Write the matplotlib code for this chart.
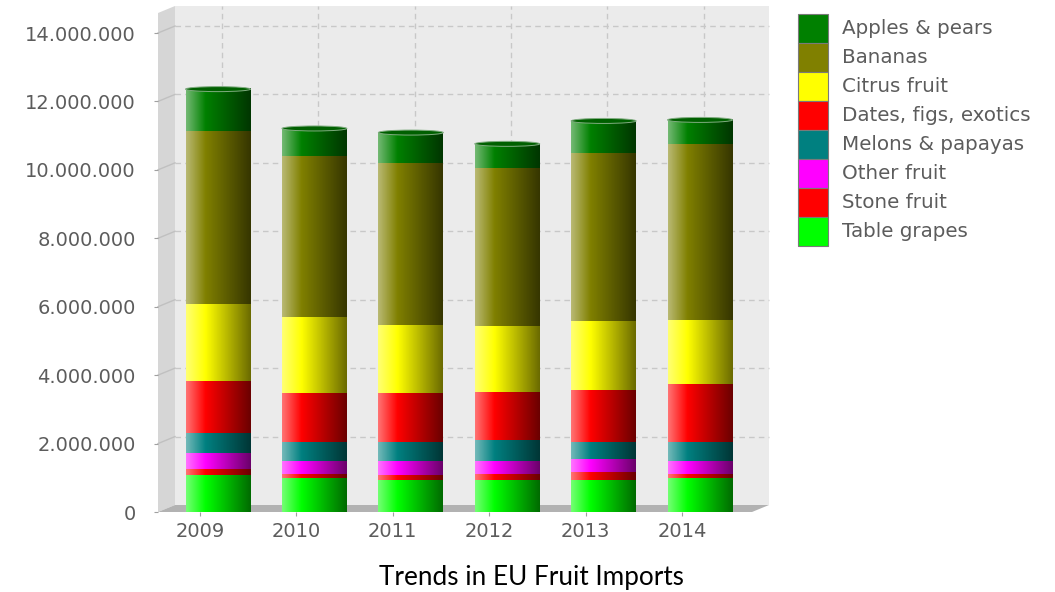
import matplotlib
matplotlib.use("Agg")
import matplotlib.pyplot as plt
import matplotlib.colors as mcolors
import numpy as np
from matplotlib.patches import Rectangle, Ellipse, Polygon
from matplotlib.lines import Line2D
from matplotlib.transforms import ScaledTranslation, IdentityTransform

years = ["2009", "2010", "2011", "2012", "2013", "2014"]

# stacking order, bottom to top
series = ["Table grapes", "Stone fruit", "Other fruit", "Melons & papayas",
          "Dates, figs, exotics", "Citrus fruit", "Bananas", "Apples & pears"]

table_grapes = [1070000, 980000, 930000, 930000, 930000, 980000]
stone_fruit = [200000, 120000, 140000, 190000, 240000, 140000]
other_fruit = [450000, 390000, 410000, 370000, 370000, 370000]
melons_papayas = [600000, 550000, 560000, 610000, 500000, 550000]
dates_figs_exotics = [1520000, 1450000, 1450000, 1410000, 1520000, 1700000]
citrus_fruit = [2240000, 2220000, 1990000, 1920000, 2010000, 1870000]
bananas = [5050000, 4690000, 4720000, 4630000, 4910000, 5140000]
apples_pears = [1230000, 810000, 890000, 700000, 950000, 710000]

values = [table_grapes, stone_fruit, other_fruit, melons_papayas,
          dates_figs_exotics, citrus_fruit, bananas, apples_pears]
colors = ["#00ff00", "#ff0000", "#ff00ff", "#008080",
          "#ff0000", "#ffff00", "#808000", "#008000"]

yticks = [0, 2000000, 4000000, 6000000, 8000000, 10000000, 12000000, 14000000]


def shade(color, n=80):
    c = np.array(mcolors.to_rgb(color))
    light = c * 0.55 + 0.45
    dark = c * 0.42
    out = np.empty((n, 3))
    for i, t in enumerate(np.linspace(0, 1, n)):
        if t < 0.3:
            f = t / 0.3
            out[i] = light * (1 - f) + c * f
        else:
            f = (t - 0.3) / 0.7
            out[i] = c * (1 - f) + dark * f
    return out[np.newaxis, :, :]


fig = plt.figure(figsize=(10.55, 5.92), dpi=100)
W, H = 1055, 592
ax = fig.add_axes([158 / W, 80 / H, 594 / W, 499 / H])
ax.patch.set_visible(False)
for s in ax.spines.values():
    s.set_visible(False)
ax.set_autoscale_on(False)
xlo, xhi = -0.4357, 5.726
ytop = 499 / 34.214 * 1e6
ax.set_xlim(xlo, xhi)
ax.set_ylim(0, ytop)

depth = ScaledTranslation(0.17, 0.07, fig.dpi_scale_trans)
back_axes = ax.transAxes + depth
back_data = ax.transData + depth


def add(a):
    ax.add_artist(a)
    a.set_clip_on(False)
    return a


# back wall
add(Rectangle((0, 0), 1, 1, transform=back_axes, facecolor="#ebebeb",
              edgecolor="none", zorder=0))

# left wall and floor (in pixels)
p00 = ax.transAxes.transform((0, 0))
p01 = ax.transAxes.transform((0, 1))
p10 = ax.transAxes.transform((1, 0))
d = np.array([17, 7])
add(Polygon([p01, p01 + d, p00 + d, p00], closed=True, transform=IdentityTransform(),
            facecolor="#d6d6d6", edgecolor="none", zorder=0.5))
add(Polygon([p00, p10, p10 + d, p00 + d], closed=True, transform=IdentityTransform(),
            facecolor="#b2b2b2", edgecolor="none", zorder=0.5))

# grid on back wall
for v in yticks[1:]:
    add(Line2D([xlo, xhi], [v, v], transform=back_data, color="#c8c8c8",
               lw=1, ls=(0, (4, 3)), zorder=1))
    p = ax.transData.transform((xlo, v))
    add(Line2D([p[0], p[0] + 17], [p[1], p[1] + 7], transform=IdentityTransform(),
               color="#c0c0c0", lw=1, zorder=1))
for i in range(len(years)):
    add(Line2D([i + 0.05, i + 0.05], [0, ytop], transform=back_data, color="#c8c8c8",
               lw=1, ls=(0, (4, 3)), zorder=1))

# stacked cylinder bars
xb = np.arange(len(years)) + 0.187
width = 0.674
bottom = np.zeros(len(years))
for vals, col in zip(values, colors):
    bars = ax.bar(xb, vals, width, bottom=bottom, color=col, edgecolor="none", zorder=3)
    grad = shade(col)
    for r in bars:
        x0, y0 = r.get_x(), r.get_y()
        ax.imshow(grad, extent=(x0, x0 + r.get_width(), y0, y0 + r.get_height()),
                  aspect="auto", interpolation="bilinear", zorder=4)
    bottom = bottom + np.array(vals)

cap_h = 5 / 34.214 * 1e6
top_col = np.array(mcolors.to_rgb(colors[-1]))
for x, tot in zip(xb, bottom):
    ax.add_patch(Ellipse((x, tot), width, cap_h, facecolor=top_col * 0.75,
                         edgecolor=top_col * 0.35 + 0.5, lw=0.7, zorder=5))

ax.set_xlim(xlo, xhi)
ax.set_ylim(0, ytop)
ax.set_xticks(range(len(years)), years)
ax.set_yticks(yticks, [f"{v:,.0f}".replace(",", ".") for v in yticks])
ax.tick_params(axis="y", length=3, color="#a0a0a0", labelcolor="#5c5c5c",
               labelsize=14, pad=13)
ax.tick_params(axis="x", length=3, color="#a0a0a0", labelcolor="#5c5c5c",
               labelsize=14, pad=4)

# legend, top entry first
y_top = 14
for k, idx in enumerate(range(len(series) - 1, -1, -1)):
    yb = H - y_top - (k + 1) * 29
    fig.add_artist(Rectangle((798 / W, yb / H), 30 / W, 29 / H, transform=fig.transFigure,
                             facecolor=colors[idx], edgecolor="#7a7a7a", lw=0.8))
    fig.text(842 / W, (yb + 14.5) / H, series[idx], fontsize=14.3, color="#5c5c5c",
             ha="left", va="center")

fig.text(531 / W, 1 - 577 / H, "Trends in EU Fruit Imports", fontsize=18.8,
         family="Lato", ha="center", va="center", color="black")

fig.savefig("out.png", dpi=100)
